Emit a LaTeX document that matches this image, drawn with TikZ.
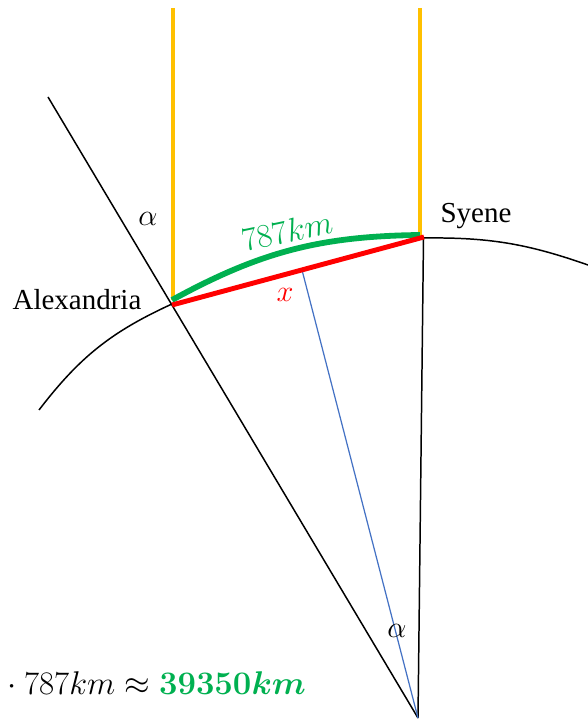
\RequirePackage{fix-cm}
\documentclass[tikz,border=0pt]{standalone}
\usepackage{fontspec}
\setmainfont{Liberation Serif}
\usepackage{amsmath}
\usepackage{tikz}
\usetikzlibrary{positioning,calc}
\definecolor{sunray}{HTML}{FFC000}
\definecolor{arcgreen}{HTML}{00B050}
\definecolor{chordred}{HTML}{FF0000}
\definecolor{radblue}{HTML}{4472C4}

\begin{document}
\begin{tikzpicture}[every node/.style={font=\fontsize{16.5}{20}\selectfont,inner sep=1pt}, ray/.style={draw=sunray,line width=2.8pt}, earth/.style={draw=black,line width=.85pt}, lbl/.style={text=black}, ang/.style={font=\fontsize{17.3}{21}\selectfont}]
\useasboundingbox (0,0) rectangle (11.76,14.4);
\coordinate (O) at (8.36,0.04);
\coordinate (S) at (8.47,9.64);
\coordinate (A) at (3.44,8.32);
\coordinate (T) at (0.96,12.46);
\coordinate (L) at (0.78,6.20);
\coordinate (R) at (11.76,9.10);
\coordinate (ya) at (3.46,14.24);
\coordinate (yab) at (3.46,8.40);
\coordinate (ys) at (8.40,14.24);
\coordinate (ysb) at (8.40,9.68);
\coordinate (ga) at (3.44,8.40);
\coordinate (gs) at (8.40,9.70);
\coordinate (ra) at (3.44,8.30);
\coordinate (rs) at (8.48,9.66);
\coordinate (mid) at (6.04,9.00);
% earth surface and radii
\draw[earth] (L) to[bend left=14] (A);
\draw[earth] (S) to[bend left=10] (R);
\draw[earth] (T) -- (O);
\draw[earth] (O) -- (S);
\draw[draw=radblue,line width=.7pt] (mid) -- (O);
% sun rays
\draw[ray] (ya) -- (yab);
\draw[ray] (ys) -- (ysb);
% arc and chord
\draw[draw=arcgreen,line width=3.3pt] (ga) to[bend left=14] (gs);
\draw[draw=chordred,line width=2.8pt] (ra) -- (rs);
% labels
\node[lbl] (alex) at (1.54,8.40) {Alexandria};
\node[lbl] (syene) at (9.52,10.08) {Syene};
\node[ang] (alpha1) at (2.96,10.02) {$\alpha$};
\node[ang] (alpha2) at (7.94,1.78) {$\alpha$};
\node[text=chordred,ang] (xlbl) at (5.70,8.50) {$x$};
\node[text=arcgreen,rotate=12,font=\fontsize{18.9}{22}\selectfont] (dist) at (5.74,9.78) {$787km$};
\node[anchor=base west,inner sep=0pt,font=\fontsize{18.7}{22}\selectfont] (res) at (0,0.52) {${}\cdot 787km \approx \color{arcgreen}\boldsymbol{39350km}$};
\end{tikzpicture}
\end{document}
